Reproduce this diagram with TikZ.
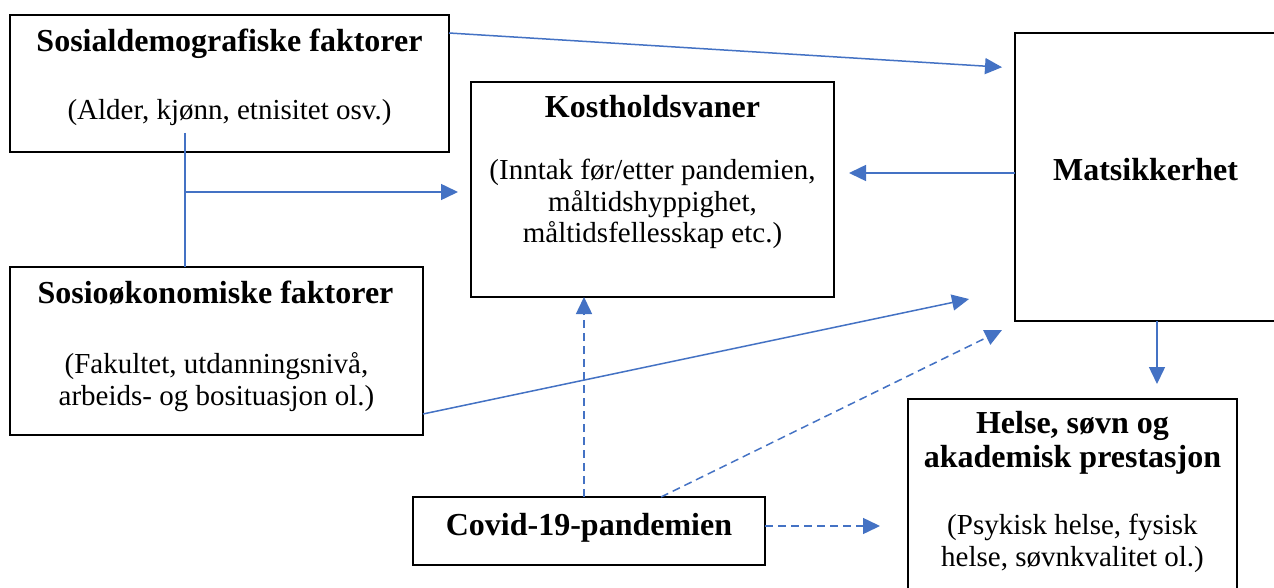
\documentclass[tikz,border=0pt]{standalone}
\usepackage{fontspec}
\setmainfont{Liberation Serif}
\usetikzlibrary{arrows.meta,calc}
\definecolor{linkblue}{HTML}{4472C4}
\tikzstyle{box}=[rectangle,draw=black,line width=1.3pt,inner sep=0pt,outer sep=0pt]
\tikzstyle{heading}=[font=\fontsize{32}{34}\selectfont\bfseries,align=center,inner sep=0pt,anchor=base]
\tikzstyle{note}=[font=\fontsize{29}{31.5}\selectfont,align=center,inner sep=0pt,anchor=base]
\tikzstyle{line}=[draw=linkblue,line width=1.5pt]
\tikzstyle{arrow}=[line,-{Triangle[length=17pt,width=16pt]}]
\tikzstyle{dasharrow}=[arrow,dash pattern=on 8pt off 5pt]

\begin{document}
\begin{tikzpicture}[x=1pt,y=-1pt]
    \clip (0,0) rectangle (1274,588);
    \fill[white] (0,0) rectangle (1274,588);
    % boxes
    \node (sosdem)[box,minimum width=439pt,minimum height=137pt] at (229.5,83.5) {};
    \node (kost)[box,minimum width=363pt,minimum height=215pt] at (652.5,189.5) {};
    \node (mat)[box,minimum width=261pt,minimum height=288pt] at (1145.5,177) {};
    \node (sosok)[box,minimum width=413pt,minimum height=168pt] at (216.5,351) {};
    \node (helse)[box,minimum width=329pt,minimum height=210pt] at (1072.5,504) {};
    \node (covid)[box,minimum width=352pt,minimum height=68pt] at (589,531) {};
    % texts (multi-line nodes sit on their last baseline)
    \node (sosdemT)[heading] at (229.5,52) {Sosialdemografiske faktorer};
    \node (sosdemN)[note] at (229.5,120) {(Alder, kjønn, etnisitet osv.)};
    \node (kostT)[heading] at (652.5,118) {Kostholdsvaner};
    \node (kostN)[note] at (652.5,243) {(Inntak før/etter pandemien,\\måltidshyppighet,\\måltidsfellesskap etc.)};
    \node (matT)[heading] at (1145.5,181) {Matsikkerhet};
    \node (sosokT)[heading] at (215.5,303) {Sosioøkonomiske faktorer};
    \node (sosokN)[note] at (216.5,405) {(Fakultet, utdanningsnivå,\\arbeids- og bosituasjon ol.)};
    \node (helseT)[heading] at (1072.5,467) {Helse, søvn og\\akademisk prestasjon};
    \node (helseN)[note] at (1072.5,566) {(Psykisk helse, fysisk\\helse, søvnkvalitet ol.)};
    \node (covidT)[heading] at (589,535) {Covid-19-pandemien};
    % connectors
    \coordinate (split) at (185,192);
    \coordinate (matin) at (969,299);
    \coordinate (covin) at (1002,330);
    \coordinate (matout) at ($(mat.west)+(0,-4)$);
    \coordinate (matdown) at ($(mat.south)+(11.5,0)$);
    \coordinate (covup) at ($(covid.north)+(-5,0)$);
    \coordinate (covright) at ($(covid.east)+(0,-5)$);
    \draw [line] ($(sosdem.south -| split)+(0,-19)$) -- (sosok.north -| split);
    \draw [arrow,shorten >=13pt] (split) -- (split -| kost.west);
    \draw [arrow,shorten >=13pt] ($(sosdem.north east)+(0,18)$) -- ($(mat.north west)+(0,35)$);
    \draw [arrow,shorten >=15pt] (matout) -- (matout -| kost.east);
    \draw [arrow] ($(sosok.south east)+(0,-21)$) -- (matin);
    \draw [arrow,shorten >=15pt] (matdown) -- (matdown |- helse.north);
    \draw [dasharrow] (covup) -- (covup |- kost.south);
    \draw [dasharrow] ($(covid.north)+(72,0)$) -- (covin);
    \draw [dasharrow,shorten >=28pt] (covright) -- (covright -| helse.west);
\end{tikzpicture}
\end{document}
